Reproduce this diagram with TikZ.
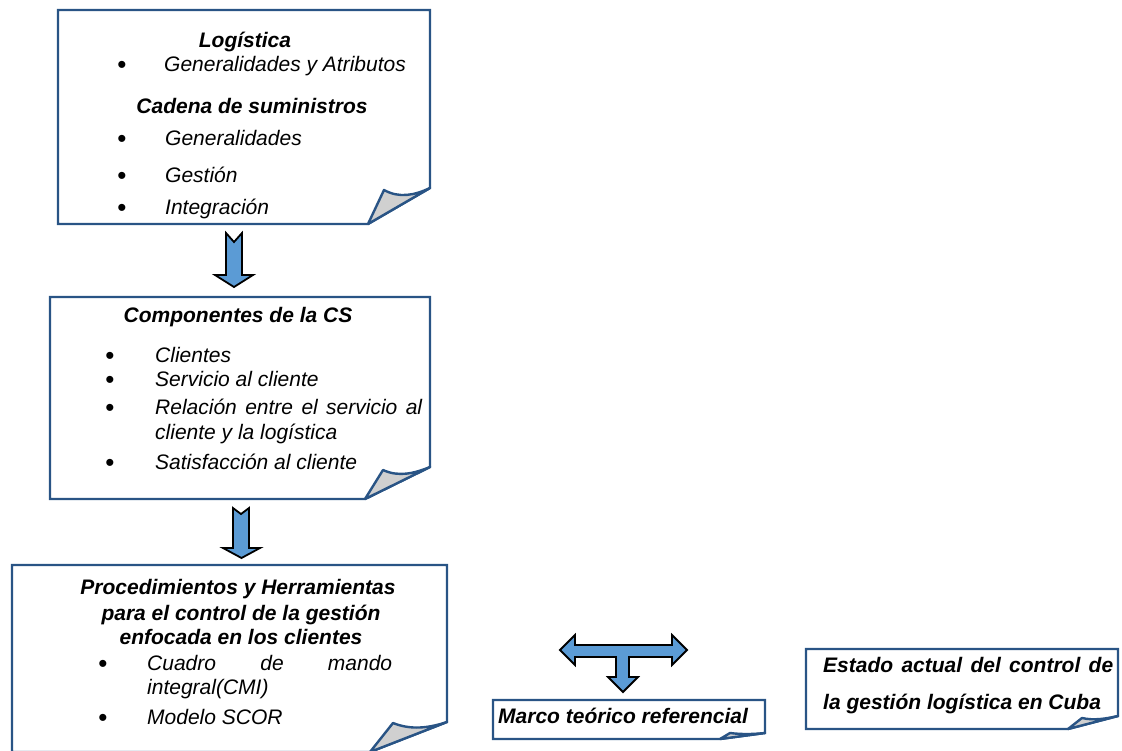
\documentclass[tikz,border=0pt]{standalone}
\usepackage{fontspec}
\setmainfont{Liberation Sans}
\definecolor{boxblue}{RGB}{41,84,133}
\definecolor{flapgray}{RGB}{208,208,208}
\definecolor{arrowblue}{RGB}{91,155,213}

% Sheet with a curled lower-right corner:
% #1 name, #2..#5 x1 y1 x2 y2, #6 cut on right edge, #7 cut on bottom edge,
% #8 #9 offset of the curl tip from the lower-right corner
\newcommand\paperbox[9]{%
  \draw[paper] (#2,#3) -- (#4,#3) -- (#4,{#5-#6}) -- ({#4-#7},#5) -- (#2,#5) -- cycle;
  \draw[flap] ({#4-#7},#5) -- ({#4-#8},{#5-#9})
    .. controls ({#4-#8*2/3},{#5-#9+#9*0.25}) and ({#4-#8/3},{#5-#6+#6*0.2}) ..
    (#4,{#5-#6}) -- cycle;
  \coordinate (#1) at ({(#2+#4)/2},{(#3+#5)/2});
}

\begin{document}
\begin{tikzpicture}[x=1pt,y=-1pt,
  paper/.style={draw=boxblue, line width=2.4pt, line join=miter, fill=white},
  flap/.style={draw=boxblue, line width=2.4pt, line join=round, fill=flapgray},
  blockarrow/.style={draw=black, line width=1.8pt, fill=arrowblue, line join=miter},
  txt/.style={inner sep=0pt, font=\fontsize{21}{24}\selectfont\itshape},
  head/.style={inner sep=0pt, font=\fontsize{21}{24}\selectfont\bfseries\itshape},
  dot/.style={inner sep=0pt, font=\fontsize{26}{26}\selectfont, yshift=-2pt}
]
\useasboundingbox (0,0) rectangle (1122,750);
\clip (0,0) rectangle (1122,750);

% sheets
\paperbox{pb1}{58}{10}{430}{224}{36}{62}{46}{34}
\paperbox{pb2}{50}{297}{430}{499}{32}{65}{47}{29}
\paperbox{pb3}{12}{565}{447}{752}{30}{77}{54}{29}
\paperbox{pb4}{493}{700}{765}{739}{6}{45}{35}{6}
\paperbox{pb5}{806}{649}{1118}{729}{13}{50}{36}{11}

% down arrows between the sheets
\draw[blockarrow] (226,233) -- (234,242) -- (242,233) -- (242,275) -- (253,275)
  -- (234,287) -- (215,275) -- (226,275) -- cycle;
\draw[blockarrow] (233,508) -- (241,514) -- (249,508) -- (249,548) -- (260,548)
  -- (241.5,558) -- (223,548) -- (233,548) -- cycle;

% three-way arrow
\draw[blockarrow] (560,650) -- (575,635) -- (575,645) -- (672,645) -- (672,635)
  -- (687,650) -- (672,665) -- (672,657) -- (629,657) -- (629,677) -- (638,677)
  -- (623,692) -- (608,677) -- (616,677) -- (616,657) -- (575,657) -- (575,665) -- cycle;

% first sheet
\node[head, anchor=base] (h11) at (245,47) {Logística};
\node[dot, anchor=base] (d11) at (122,71) {\smash{•}};
\node[txt, anchor=base west] (i11) at (164,71) {Generalidades y Atributos};
\node[head, anchor=base] (h12) at (252,113) {Cadena de suministros};
\node[dot, anchor=base] (d12) at (122,145) {\smash{•}};
\node[txt, anchor=base west] (i12) at (165,145) {Generalidades};
\node[dot, anchor=base] (d13) at (122,182) {\smash{•}};
\node[txt, anchor=base west] (i13) at (165,182) {Gestión};
\node[dot, anchor=base] (d14) at (122,214) {\smash{•}};
\node[txt, anchor=base west] (i14) at (165,214) {Integración};

% second sheet
\node[head, anchor=base] (h21) at (238,322) {Componentes de la CS};
\node[dot, anchor=base] (d21) at (110,362) {\smash{•}};
\node[txt, anchor=base west] (i21) at (155,362) {Clientes};
\node[dot, anchor=base] (d22) at (110,386) {\smash{•}};
\node[txt, anchor=base west] (i22) at (155,386) {Servicio al cliente};
\node[dot, anchor=base] (d23) at (110,414) {\smash{•}};
\node[txt, anchor=base west] (i23) at (155,414) {\makebox[267pt][s]{Relación entre el servicio al}};
\node[txt, anchor=base west] (i24) at (155,439) {cliente y la logística};
\node[dot, anchor=base] (d25) at (110,469) {\smash{•}};
\node[txt, anchor=base west] (i25) at (155,469) {Satisfacción al cliente};

% third sheet
\node[head, anchor=base] (h31) at (238,594) {Procedimientos y Herramientas};
\node[head, anchor=base] (h32) at (241,620) {para el control de la gestión};
\node[head, anchor=base] (h33) at (241,644) {enfocada en los clientes};
\node[dot, anchor=base] (d31) at (103,670) {\smash{•}};
\node[txt, anchor=base west] (i31) at (147,670) {\makebox[245pt][s]{Cuadro de mando}};
\node[txt, anchor=base west] (i32) at (147,694) {integral(CMI)};
\node[dot, anchor=base] (d33) at (103,724) {\smash{•}};
\node[txt, anchor=base west] (i33) at (147,724) {Modelo SCOR};

% small sheets
\node[head, anchor=base west] (h41) at (498,723) {Marco teórico referencial};
\node[head, anchor=base west] (h51) at (823,672) {\makebox[290pt][s]{Estado actual del control de}};
\node[head, anchor=base west] (h52) at (823,709) {la gestión logística en Cuba};
\end{tikzpicture}
\end{document}
